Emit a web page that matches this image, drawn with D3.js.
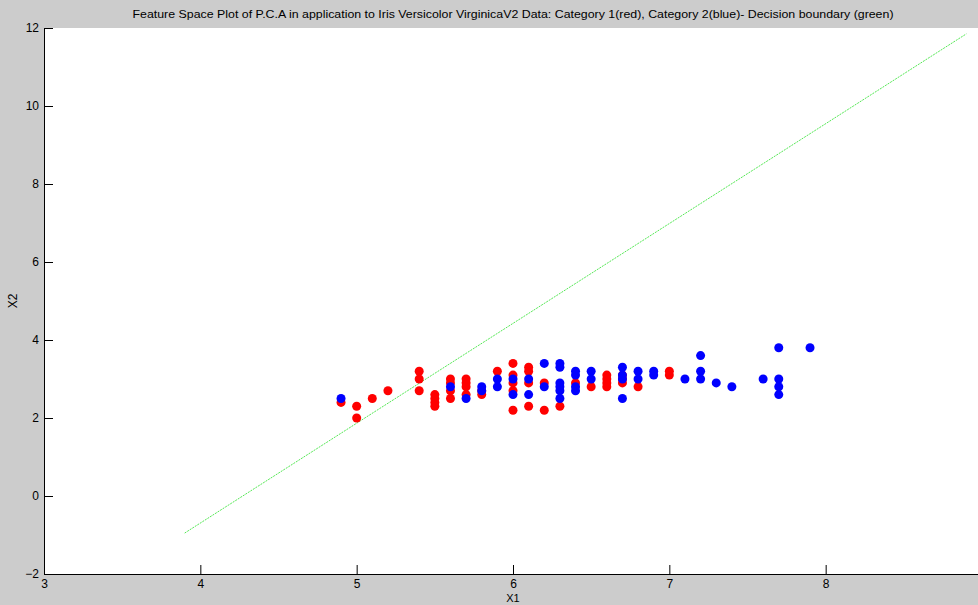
<!DOCTYPE html>
<html>
<head>
<meta charset="utf-8">
<script src="https://cdn.jsdelivr.net/npm/d3@7"></script>
<style>
  html, body { margin: 0; padding: 0; background: #cccccc; }
  svg { display: block; }
  text { font-family: "Liberation Sans", Arial, sans-serif; fill: #000; }
</style>
</head>
<body>
<svg id="chart" width="978" height="605"></svg>
<script>
// ---- Data ----
const titleText = "Feature Space Plot of P.C.A in application to Iris Versicolor VirginicaV2 Data: Category 1(red), Category 2(blue)- Decision boundary (green)";
const xLabel = "X1";
const yLabel = "X2";
const xTicks = [3, 4, 5, 6, 7, 8];
const yTicks = [-2, 0, 2, 4, 6, 8, 10, 12];

// Category 1 (red)
const cat1X = [4.9, 5.0, 5.0, 5.1, 5.2, 5.4, 5.4, 5.4, 5.5, 5.5, 5.5, 5.5,
               5.6, 5.6, 5.6, 5.6, 5.7, 5.7, 5.7, 5.7, 5.8, 5.8, 5.9,
               6.0, 6.0, 6.0, 6.0, 6.0, 6.1, 6.1, 6.1, 6.1, 6.2, 6.2, 6.3, 6.4, 6.5,
               6.6, 6.6, 6.6, 6.6, 6.7, 6.7, 6.7, 6.8, 7.0, 7.0];
const cat1Y = [2.4, 2.3, 2.0, 2.5, 2.7, 3.2, 3.0, 2.7, 2.6, 2.5, 2.4, 2.3,
               3.0, 2.9, 2.7, 2.5, 3.0, 2.9, 2.8, 2.6, 2.7, 2.6, 3.2,
               3.4, 3.1, 2.9, 2.7, 2.2, 3.3, 3.2, 2.9, 2.3, 2.9, 2.2, 2.3, 2.9, 2.8,
               3.1, 3.0, 2.9, 2.8, 3.1, 3.0, 2.9, 2.8, 3.2, 3.1];

// Category 2 (blue)
const cat2X = [4.9, 5.6, 5.7, 5.8, 5.8, 5.9, 5.9, 6.0, 6.0, 6.1, 6.1, 6.2, 6.2,
               6.3, 6.3, 6.3, 6.3, 6.3, 6.3, 6.4, 6.4, 6.4, 6.4, 6.5, 6.5,
               6.7, 6.7, 6.7, 6.7, 6.8, 6.8, 6.9, 6.9, 7.1, 7.2, 7.2, 7.2,
               7.3, 7.4, 7.6, 7.7, 7.7, 7.7, 7.7, 7.9];
const cat2Y = [2.5, 2.8, 2.5, 2.8, 2.7, 3.0, 2.8, 3.0, 2.6, 3.0, 2.6, 3.4, 2.8,
               3.4, 3.3, 2.9, 2.8, 2.7, 2.5, 3.2, 3.1, 2.8, 2.7, 3.2, 3.0,
               3.3, 3.1, 3.0, 2.5, 3.2, 3.0, 3.2, 3.1, 3.0, 3.6, 3.2, 3.0,
               2.9, 2.8, 3.0, 3.8, 3.0, 2.8, 2.6, 3.8];

// Decision boundary (green) end points
const boundaryX = [3.9, 8.9];
const boundaryY = [-0.95, 11.85];

// ---- Drawing ----
const svg = d3.select("#chart");
const mLeft = 44, mRight = 982, mTop = 28, mBottom = 574;

const x = d3.scaleLinear().domain([3, 9]).range([mLeft, mRight]);
const y = d3.scaleLinear().domain([-2, 12]).range([mBottom, mTop]);

// plot area
svg.append("rect")
  .attr("x", mLeft).attr("y", mTop)
  .attr("width", mRight - mLeft).attr("height", mBottom - mTop)
  .attr("fill", "#ffffff");

// decision boundary
svg.append("line")
  .attr("x1", x(boundaryX[0])).attr("y1", y(boundaryY[0]))
  .attr("x2", x(boundaryX[1])).attr("y2", y(boundaryY[1]))
  .attr("stroke", "#55e855")
  .attr("stroke-width", 1)
  .attr("stroke-dasharray", "2,1");

// points
const cat1 = cat1X.map((v, i) => [v, cat1Y[i]]);
const cat2 = cat2X.map((v, i) => [v, cat2Y[i]]);

svg.append("g").selectAll("circle").data(cat1).join("circle")
  .attr("cx", d => x(d[0])).attr("cy", d => y(d[1]))
  .attr("r", 4.5).attr("fill", "#ff0000");

svg.append("g").selectAll("circle").data(cat2).join("circle")
  .attr("cx", d => x(d[0])).attr("cy", d => y(d[1]))
  .attr("r", 4.5).attr("fill", "#0000ff");

// axes
const xAxis = d3.axisBottom(x).tickValues(xTicks).tickFormat(d3.format("d"))
  .tickSizeInner(-9).tickSizeOuter(0).tickPadding(5);
const yAxis = d3.axisLeft(y).tickValues(yTicks).tickFormat(d3.format("d"))
  .tickSizeInner(-9).tickSizeOuter(0).tickPadding(5);

const gx = svg.append("g").attr("transform", `translate(0,${mBottom})`).call(xAxis);
const gy = svg.append("g").attr("transform", `translate(${mLeft},0)`).call(yAxis);
[gx, gy].forEach(g => {
  g.selectAll("path.domain").attr("stroke", "#000").attr("stroke-width", 1);
  g.selectAll(".tick line").attr("stroke", "#000");
  g.selectAll("text").attr("font-size", 12).style("font-family", "'Liberation Sans', Arial, sans-serif");
});

// title
svg.append("text")
  .attr("x", (mLeft + mRight) / 2).attr("y", 18)
  .attr("text-anchor", "middle")
  .attr("font-size", 11.5)
  .attr("textLength", 761)
  .attr("lengthAdjust", "spacingAndGlyphs")
  .text(titleText);

// axis labels
svg.append("text")
  .attr("x", (mLeft + mRight) / 2).attr("y", 602)
  .attr("text-anchor", "middle")
  .attr("font-size", 11)
  .text(xLabel);

svg.append("text")
  .attr("transform", `translate(17,${(mTop + mBottom) / 2}) rotate(-90)`)
  .attr("text-anchor", "middle")
  .attr("font-size", 12)
  .text(yLabel);
</script>
</body>
</html>
